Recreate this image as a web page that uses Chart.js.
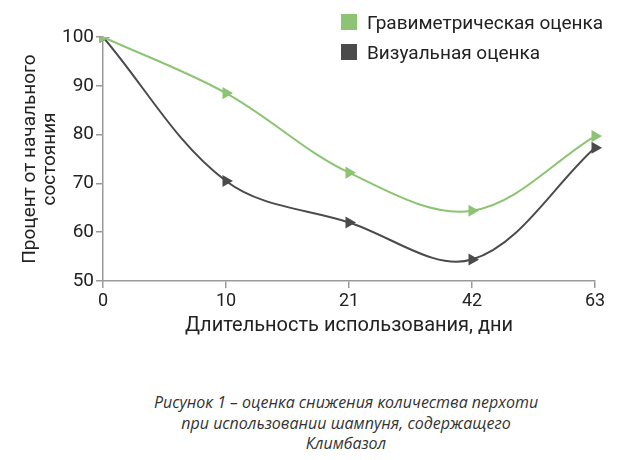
<!DOCTYPE html>
<html>
<head>
<meta charset="utf-8">
<script src="https://cdn.jsdelivr.net/npm/chart.js@4"></script>
<style>
  body { margin: 0; background: #fff; }
  #wrap { position: relative; width: 625px; height: 460px; }
  #chart-box { position: absolute; left: 0; top: 0; width: 625px; height: 350px; }
  #legend { position: absolute; left: 341px; top: 7px; font-family: Roboto, sans-serif; font-size: 19px; color: #222; }
  #legend div { height: 30px; display: flex; align-items: center; }
  #legend span.box { display: inline-block; width: 16px; height: 16px; margin-right: 10px; }
  #caption { position: absolute; left: 0; width: 692px; top: 392px; text-align: center; font-family: "Open Sans", sans-serif; font-style: italic; font-size: 16px; line-height: 20.5px; color: #333; }
</style>
</head>
<body>
<div id="wrap">
  <div id="chart-box"><canvas id="chart" width="625" height="350"></canvas></div>
  <div id="legend"></div>
  <div id="caption">Рисунок 1 – оценка снижения количества перхоти<br>при использовании шампуня, содержащего<br>Климбазол</div>
</div>
<script>
const days = ["0", "10", "21", "42", "63"];
const gravimetric = [100, 88.5, 72.2, 64.4, 79.7];
const visual = [100, 70.5, 62, 54.4, 77.3];
const yTicks = [50, 60, 70, 80, 90, 100];

const green = '#8cc474';
const dark = '#4b4b4b';
const axisColor = '#9a9a9a';

const chart = new Chart('chart', {
    type: 'line',
    data: {
        labels: days,
        datasets: [
            {
                label: "Гравиметрическая оценка",
                data: gravimetric,
                borderColor: green,
                backgroundColor: green,
                borderWidth: 2,
                tension: 0.35,
                pointStyle: 'triangle',
                rotation: 90,
                pointRadius: 5,
            },
            {
                label: "Визуальная оценка",
                data: visual,
                borderColor: dark,
                backgroundColor: dark,
                borderWidth: 2,
                tension: 0.35,
                pointStyle: 'triangle',
                rotation: 90,
                pointRadius: 5,
            }
        ]
    },
    options: {
        responsive: false,
        maintainAspectRatio: false,
        animation: false,
        layout: { padding: { top: 37, right: 30, bottom: 8, left: 20 } },
        plugins: { legend: { display: false }, tooltip: { enabled: false } },
        scales: {
            x: {
                offset: false,
                grid: { drawOnChartArea: false, color: axisColor, tickLength: 7, lineWidth: 1.5 },
                border: { color: axisColor, width: 1.5 },
                ticks: { color: '#222', font: { family: 'Roboto', size: 18 }, padding: 3 },
                title: { display: true, text: 'Длительность использования, дни', color: '#222', font: { family: 'Roboto', size: 20 }, padding: { top: 0 } },
                afterFit: s => { s.height = 61; }
            },
            y: {
                min: 50,
                max: 100,
                afterBuildTicks: s => { s.ticks = yTicks.map(v => ({ value: v })); },
                grid: { drawOnChartArea: false, color: axisColor, tickLength: 7, lineWidth: 1.5 },
                border: { color: axisColor, width: 1.5 },
                ticks: { color: '#222', font: { family: 'Roboto', size: 19 }, padding: 2 },
                title: { display: true, text: ['Процент от начального', 'состояния'], color: '#222', font: { family: 'Roboto', size: 19, lineHeight: 1.05 }, padding: 0 },
                afterFit: s => { s.width = 83; }
            }
        }
    }
});

const legend = document.getElementById('legend');
chart.data.datasets.forEach(ds => {
    const row = document.createElement('div');
    row.innerHTML = '<span class="box" style="background:' + ds.borderColor + '"></span>' + ds.label;
    legend.appendChild(row);
});
</script>
</body>
</html>
